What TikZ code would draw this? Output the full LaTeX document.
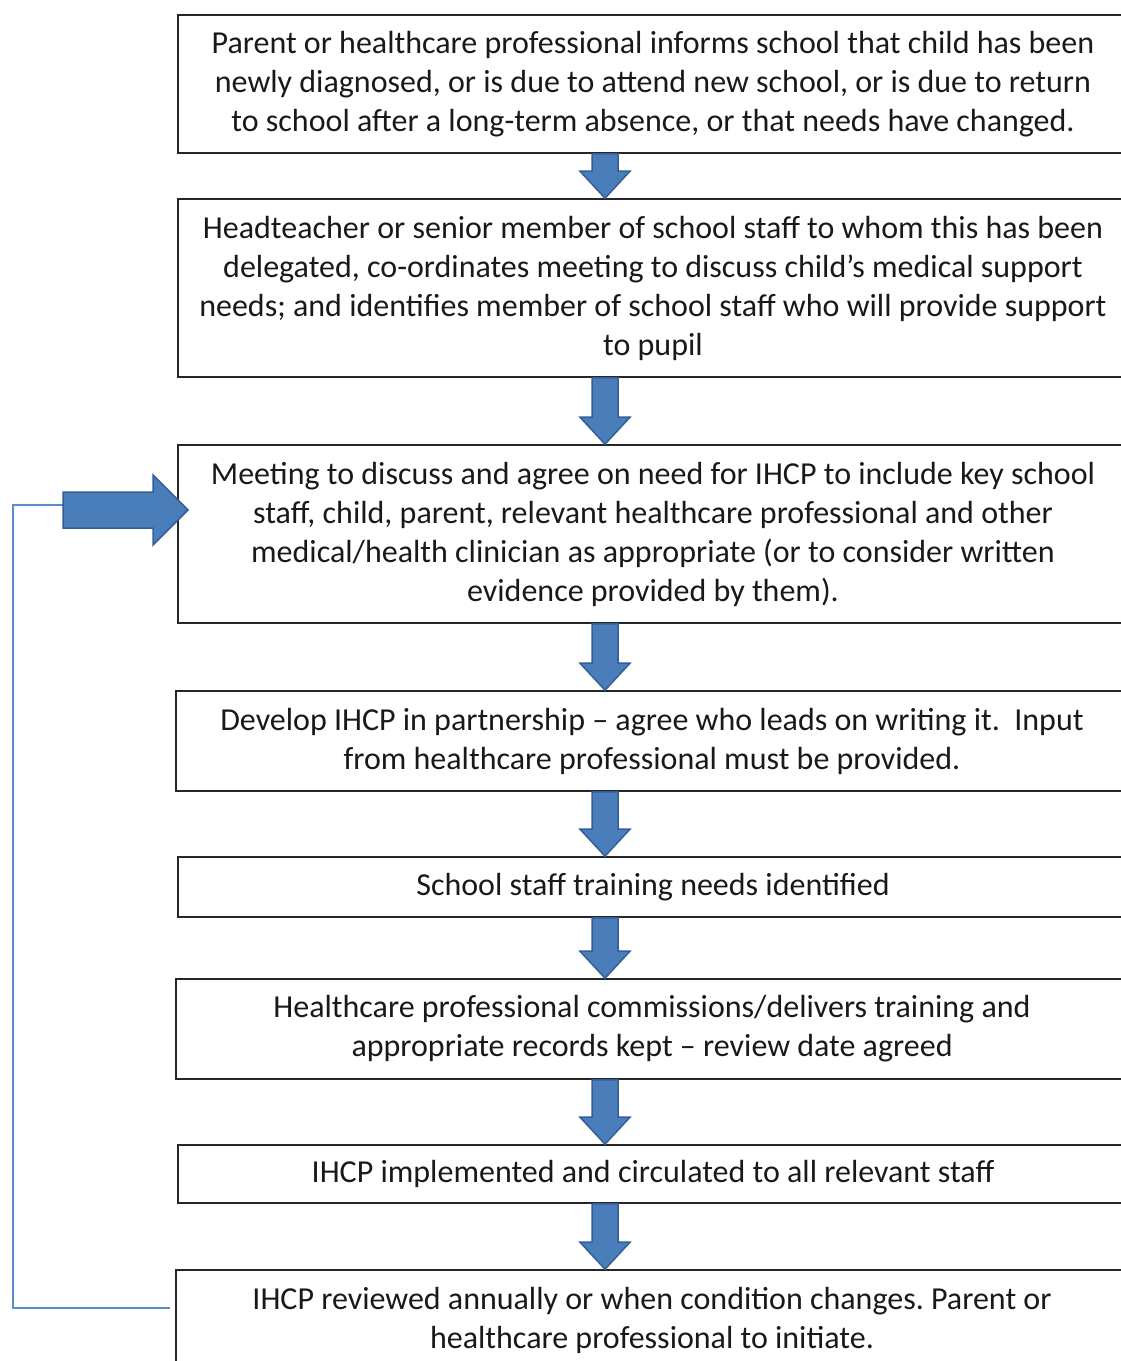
\documentclass[tikz,border=0pt]{standalone}
\usepackage{fontspec}
\setmainfont{Carlito}
\usetikzlibrary{calc}
\frenchspacing
\definecolor{arrfill}{RGB}{74,126,187}
\definecolor{arrdraw}{RGB}{52,95,150}
\definecolor{fbline}{RGB}{91,140,205}
\definecolor{boxline}{RGB}{38,38,38}
\newcommand\downblock[2]{%
  \path let \p1=(#1), \p2=(#2) in
   [blockarr] (\x1-13pt,\y1) -- (\x1+13pt,\y1) -- (\x1+13pt,\y2+27pt) -- (\x1+25pt,\y2+27pt)
   -- (\x1,\y2) -- (\x1-25pt,\y2+27pt) -- (\x1-13pt,\y2+27pt) -- cycle;}
\begin{document}
\begin{tikzpicture}[x=1pt,y=-1pt,
  box/.style={draw=boxline,line width=1.6pt,align=center,inner sep=0pt,
    font=\fontsize{32}{39}\selectfont\frenchspacing,text=black!90},
  blockarr/.style={fill=arrfill,draw=arrdraw,line width=1.5pt,line join=miter},
  feedback/.style={draw=fbline,line width=1.3pt}]
\useasboundingbox (0,0) rectangle (1120,1361);
\node[box,minimum width=950pt,minimum height=138pt] (b1) at (653,84)
 {Parent or healthcare professional informs school that child has been\\
  newly diagnosed, or is due to attend new school, or is due to return\\
  to school after a long-term absence, or that needs have changed.};
\node[box,minimum width=950pt,minimum height=178pt] (b2) at (653,288)
 {Headteacher or senior member of school staff to whom this has been\\
  delegated, co-ordinates meeting to discuss child’s medical support\\
  needs; and identifies member of school staff who will provide support\\
  to pupil};
\node[box,minimum width=950pt,minimum height=178pt] (b3) at (653,534)
 {Meeting to discuss and agree on need for IHCP to include key school\\
  staff, child, parent, relevant healthcare professional and other\\
  medical/health clinician as appropriate (or to consider written\\
  evidence provided by them).};
\node[box,minimum width=952pt,minimum height=100pt] (b4) at (652,741)
 {Develop IHCP in partnership – agree who leads on writing it.\ \ Input\\
  from healthcare professional must be provided.};
\node[box,minimum width=950pt,minimum height=60pt] (b5) at (653,887)
 {School staff training needs identified};
\node[box,minimum width=952pt,minimum height=100pt] (b6) at (652,1029)
 {Healthcare professional commissions/delivers training and\\
  appropriate records kept – review date agreed};
\node[box,minimum width=950pt,minimum height=58pt] (b7) at (653,1174)
 {IHCP implemented and circulated to all relevant staff};
\node[box,minimum width=952pt,minimum height=100pt] (b8) at (652,1320)
 {IHCP reviewed annually or when condition changes. Parent or\\
  healthcare professional to initiate.};
\coordinate (ax) at (605,0);
\downblock{b1.south -| ax}{b2.north -| ax}
\downblock{b2.south -| ax}{b3.north -| ax}
\downblock{b3.south -| ax}{b4.north -| ax}
\downblock{b4.south -| ax}{b5.north -| ax}
\downblock{b5.south -| ax}{b6.north -| ax}
\downblock{b6.south -| ax}{b7.north -| ax}
\downblock{b7.south -| ax}{b8.north -| ax}
% feedback
\coordinate (fb) at (170,1308);
\coordinate (fc) at (13,1308);
\coordinate (fd) at (13,505);
\coordinate (la) at (63,505);
\coordinate (lt) at (188,510);
\draw[feedback] (fb) -- (fc) -- (fd) -- (la);
\path let \p1=(la), \p2=(lt) in
  [blockarr] (\x1,\y2+18pt) -- (153,\y2+18pt) -- (153,\y2+35pt) -- (\x2,\y2)
  -- (153,\y2-35pt) -- (153,\y2-18pt) -- (\x1,\y2-18pt) -- cycle;
\end{tikzpicture}
\end{document}
